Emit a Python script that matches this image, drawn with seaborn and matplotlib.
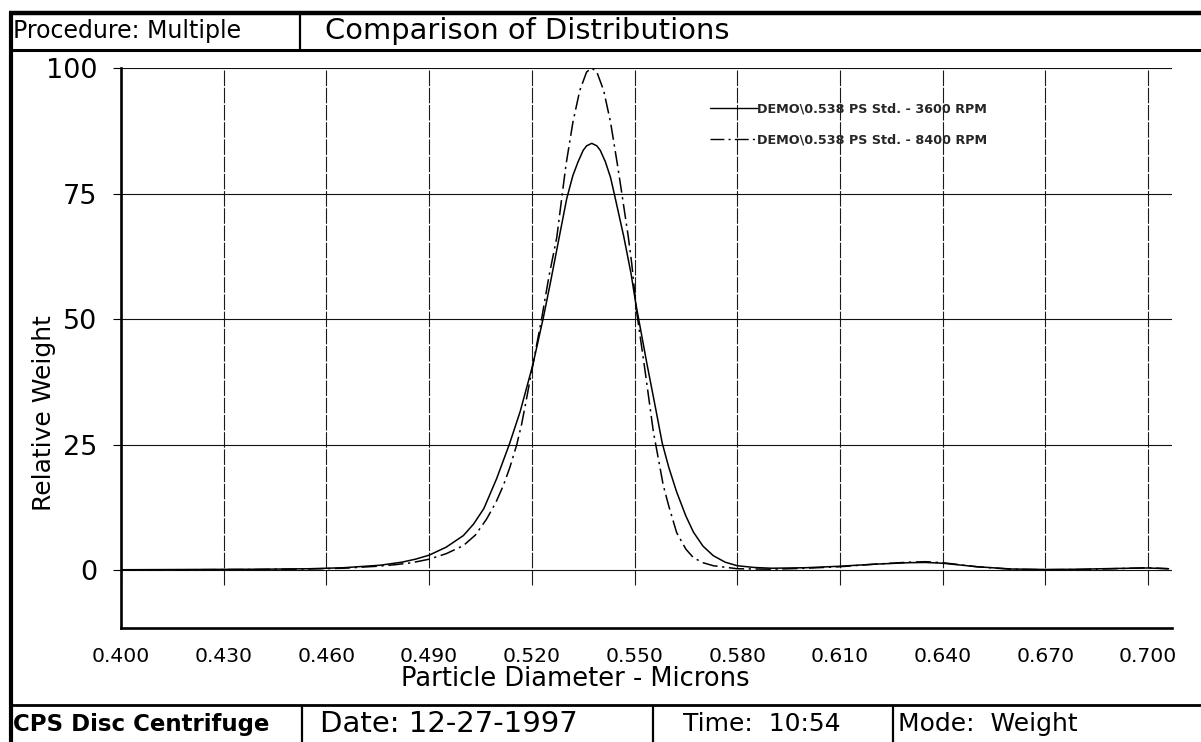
import numpy as np
import pandas as pd
import matplotlib
matplotlib.use("Agg")
import matplotlib.pyplot as plt
import seaborn as sns
from matplotlib.lines import Line2D

# ---------------- data ----------------
diam_3600 = [0.400, 0.420, 0.440, 0.455, 0.465, 0.4757, 0.482, 0.486, 0.490, 0.495,
             0.500, 0.503, 0.506, 0.5097, 0.5134, 0.5166, 0.5203, 0.5234, 0.5255, 0.5280,
             0.5302, 0.5320, 0.5335, 0.5350, 0.5360, 0.5375, 0.5390, 0.5400, 0.5415, 0.5430,
             0.5443, 0.5469, 0.5490, 0.5504,
             0.5536, 0.5560, 0.5581, 0.5600, 0.5623, 0.5650, 0.5672, 0.5700, 0.5730, 0.5765,
             0.5800, 0.5850, 0.5900, 0.6000, 0.6100, 0.6200, 0.6300, 0.6350, 0.6400, 0.6500,
             0.6600, 0.6700, 0.6800, 0.6900, 0.7000, 0.7060]
weight_3600 = [0.1, 0.15, 0.2, 0.3, 0.5, 1.0, 1.6, 2.2, 3.0, 4.6,
               6.9, 9.2, 12.3, 18.2, 25.0, 31.6, 40.9, 50.4, 57.5, 66.3,
               74.0, 78.6, 81.3, 83.6, 84.5, 85.0, 84.5, 83.6, 81.3, 78.2,
               74.3, 66.3, 59.0, 53.0,
               41.2, 32.8, 25.3, 20.5, 15.6, 10.8, 7.6, 4.8, 2.9, 1.6,
               0.9, 0.55, 0.4, 0.5, 0.8, 1.2, 1.5, 1.55, 1.4, 0.7,
               0.25, 0.15, 0.2, 0.35, 0.45, 0.3]

diam_8400 = [0.400, 0.420, 0.440, 0.455, 0.465, 0.475, 0.480, 0.485, 0.490, 0.495,
             0.500, 0.5035, 0.5068, 0.5095, 0.5117, 0.5136, 0.5156, 0.5170, 0.5185, 0.5203,
             0.5229, 0.5250, 0.5273, 0.5290, 0.5300, 0.5320, 0.5340, 0.5360, 0.5375, 0.5390,
             0.5410, 0.5430, 0.5450, 0.5463, 0.5482, 0.5492, 0.5506, 0.5531, 0.5555, 0.5584,
             0.5600, 0.5623, 0.5650, 0.5672, 0.5700, 0.5730, 0.5800, 0.5900, 0.6000, 0.6100,
             0.6200, 0.6300, 0.6350, 0.6400, 0.6500, 0.6600, 0.6700, 0.6800, 0.6900, 0.7000,
             0.7060]
weight_8400 = [0.05, 0.1, 0.15, 0.25, 0.4, 0.8, 1.1, 1.5, 2.2, 3.3,
               4.9, 7.0, 10.2, 13.5, 16.9, 20.5, 25.0, 29.0, 34.3, 40.9,
               50.2, 58.5, 66.3, 75.5, 80.8, 89.2, 95.5, 99.2, 100.0, 99.2,
               95.5, 89.2, 80.8, 75.0, 66.3, 61.0, 51.6, 39.6, 27.6, 16.9,
               12.8, 7.5, 4.2, 2.5, 1.5, 0.9, 0.3, 0.2, 0.4, 0.7,
               1.2, 1.6, 1.7, 1.5, 0.7, 0.2, 0.1, 0.15, 0.3, 0.5,
               0.3]

series_labels = ["DEMO\\0.538 PS Std. - 3600 RPM", "DEMO\\0.538 PS Std. - 8400 RPM"]
x_ticks = [0.400, 0.430, 0.460, 0.490, 0.520, 0.550, 0.580, 0.610, 0.640, 0.670, 0.700]
x_tick_labels = ["0.400", "0.430", "0.460", "0.490", "0.520", "0.550",
                 "0.580", "0.610", "0.640", "0.670", "0.700"]
y_ticks = [0, 25, 50, 75, 100]
y_tick_labels = ["0", "25", "50", "75", "100"]

header_left = "Procedure: Multiple"
header_right = "Comparison of Distributions"
footer_texts = ["CPS Disc Centrifuge", "Date: 12-27-1997", "Time:  10:54", "Mode:  Weight"]
x_label = "Particle Diameter - Microns"
y_label = "Relative Weight"

df = pd.concat([
    pd.DataFrame({"Diameter": diam_3600, "Weight": weight_3600, "Series": series_labels[0]}),
    pd.DataFrame({"Diameter": diam_8400, "Weight": weight_8400, "Series": series_labels[1]}),
], ignore_index=True)

# ---------------- styling ----------------
sns.set_theme(style="white")
plt.rcParams["font.family"] = ["DejaVu Sans"]

W, H = 1201, 742
fig = plt.figure(figsize=(W / 100, H / 100), dpi=100)
fig.patch.set_facecolor("white")


def fx(px):
    return px / W


def fy(py):
    return 1 - py / H


ax = fig.add_axes([fx(121), fy(628), fx(1172) - fx(121), fy(68) - fy(628)])
ax.set_facecolor("white")
X_MAX = 0.707
ax.set_xlim(0.400, X_MAX)
ax.set_ylim(-11.5, 100)

# grid
ax.vlines(x_ticks, -3, 100, colors="#1a1a1a", linewidth=0.8,
          linestyles=(0, (14, 1.5)), zorder=1)
ax.hlines(y_ticks, 0.400, X_MAX, colors="#111111", linewidth=0.8, zorder=1)

DASHDOT = (10, 3, 1.5, 3)
sns.lineplot(data=df, x="Diameter", y="Weight", hue="Series", style="Series",
             palette=["black", "black"], dashes=["", DASHDOT],
             linewidth=1.1, estimator=None, sort=True, legend=False, ax=ax, zorder=3)

handles = [Line2D([], [], color="black", lw=1.0),
           Line2D([], [], color="black", lw=1.0, dashes=DASHDOT)]
leg = ax.legend(handles, series_labels, loc="upper left",
                bbox_to_anchor=((710 - 121) / 1051, (628 - 102) / 560),
                frameon=False, handlelength=3.7, handletextpad=0.0,
                labelspacing=1.45, borderpad=0, borderaxespad=0,
                prop={"weight": "bold", "size": 9.2})

for s in ["top", "right"]:
    ax.spines[s].set_visible(False)
for s in ["left", "bottom"]:
    ax.spines[s].set_visible(True)
    ax.spines[s].set_color("black")
    ax.spines[s].set_linewidth(1.9)

ax.set_xticks(x_ticks)
ax.set_xticklabels(x_tick_labels)
ax.set_yticks(y_ticks)
ax.set_yticklabels(y_tick_labels)
ax.tick_params(axis="x", length=0, pad=14, labelsize=14.6, colors="black")
ax.tick_params(axis="y", direction="out", left=True, length=6, width=0.8,
               pad=11, labelsize=19.5, colors="black")

ax.set_xlabel(x_label, fontsize=18.5, color="black", va="baseline")
ax.xaxis.set_label_coords((575 - 121) / 1051, (628 - 686) / 560)
ax.set_ylabel(y_label, fontsize=18, color="black", va="center")
ax.yaxis.set_label_coords((44 - 121) / 1051, (628 - 413) / 560)

# ---------------- frame: header & footer ----------------
def fline(x0, y0, x1, y1, lw):
    fig.add_artist(Line2D([fx(x0), fx(x1)], [fy(y0), fy(y1)],
                          transform=fig.transFigure, color="black", lw=lw,
                          solid_capstyle="butt"))


fline(9, 13, W, 13, 3.2)        # top border
fline(10.5, 12, 10.5, H, 3.0)   # left border
fline(10, 50, W, 50, 2.2)       # header bottom
fline(300, 13, 300, 50, 1.6)    # header separator
fline(10, 705, W, 705, 2.0)     # footer top
for xs in [302, 653, 893]:
    fline(xs, 705, xs, H, 1.6)

fig.text(fx(13), fy(31), header_left, fontsize=17, va="center", ha="left", color="black")
fig.text(fx(325), fy(31), header_right, fontsize=20.8, va="center", ha="left", color="black")

fig.text(fx(13), fy(724), footer_texts[0], fontsize=16.5, fontweight="bold",
         va="center", ha="left", color="black")
fig.text(fx(320), fy(724), footer_texts[1], fontsize=21, va="center", ha="left", color="black")
fig.text(fx(683), fy(724), footer_texts[2], fontsize=18, va="center", ha="left", color="black")
fig.text(fx(898), fy(724), footer_texts[3], fontsize=18, va="center", ha="left", color="black")

fig.savefig("out.png", dpi=100, facecolor="white")
